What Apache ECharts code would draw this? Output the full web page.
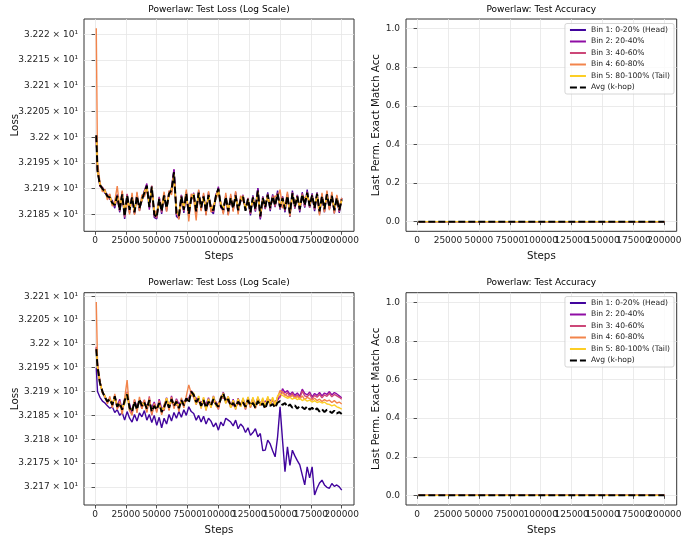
<!DOCTYPE html>
<html>
<head>
<meta charset="utf-8">
<script src="https://cdn.jsdelivr.net/npm/echarts@6/dist/echarts.min.js"></script>
<style>
  html, body { margin: 0; padding: 0; background: #fff; }
  #chart { width: 681px; height: 535px; }
</style>
</head>
<body>
<div id="chart"></div>
<script>
// loss values are stored as ten-thousandths above LOSS_BASE (274 -> 32.1874)
const LOSS_BASE = 32.16
const LOSS_UNIT = 0.0001

const steps = [
  1000, 2000, 4000, 6000, 8000, 10000, 12000, 14000, 16000, 18000,
  20000, 22000, 24000, 26000, 28000, 30000, 32000, 34000, 36000, 38000,
  40000, 42000, 44000, 46000, 48000, 50000, 52000, 54000, 56000, 58000,
  60000, 62000, 64000, 66000, 68000, 70000, 72000, 74000, 76000, 78000,
  80000, 82000, 84000, 86000, 88000, 90000, 92000, 94000, 96000, 98000,
  100000, 102000, 104000, 106000, 108000, 110000, 112000, 114000, 116000, 118000,
  120000, 122000, 124000, 126000, 128000, 130000, 132000, 134000, 136000, 138000,
  140000, 142000, 144000, 146000, 148000, 150000, 152000, 154000, 156000, 158000,
  160000, 162000, 164000, 166000, 168000, 170000, 172000, 174000, 176000, 178000,
  180000, 182000, 184000, 186000, 188000, 190000, 192000, 194000, 196000, 198000,
  200000
]
const accSteps = [1000, 10000, 20000, 30000, 40000, 50000, 60000, 70000, 80000, 90000, 100000,
  110000, 120000, 130000, 140000, 150000, 160000, 170000, 180000, 190000, 200000]

const binNames = ['Bin 1: 0-20% (Head)', 'Bin 2: 20-40%', 'Bin 3: 40-60%', 'Bin 4: 60-80%', 'Bin 5: 80-100% (Tail)']
const avgName = 'Avg (k-hop)'
const binColors = ['#41049d', '#8f0da4', '#cc4778', '#f2844b', '#fcce25']

const stepTicks = [0, 25000, 50000, 75000, 100000, 125000, 150000, 175000, 200000]
// labels are split over two axes so the crowded neighbours are all drawn
const stepLabelsOdd = [25000, 75000, 125000, 175000]
const stepLabelsEven = [0, 50000, 100000, 150000, 200000]
const topLossTicks = [32.185, 32.19, 32.195, 32.2, 32.205, 32.21, 32.215, 32.22]
const botLossTicks = [32.17, 32.175, 32.18, 32.185, 32.19, 32.195, 32.2, 32.205, 32.21]
const accTicks = [0, 0.2, 0.4, 0.6, 0.8, 1.0]

// top row loss
const topBin1 = [399,338,305,302,291,289,279,277,262,289,
  254,294,241,289,253,287,251,291,257,281,
  295,302,270,301,244,241,284,251,290,256,
  295,293,336,246,242,288,253,294,244,284,
  285,250,296,258,288,249,293,257,251,289,
  296,271,253,287,249,286,257,293,254,281,
  279,261,277,248,287,255,301,240,285,260,
  293,256,289,264,296,259,285,254,290,245,
  296,261,288,254,293,263,298,263,291,256,
  293,251,289,254,294,260,289,252,286,253,
  282]
const topBin2 = [401,332,309,298,298,282,288,268,274,281,
  263,284,250,282,265,279,260,280,267,275,
  296,310,259,300,255,247,276,261,283,267,
  286,302,338,256,243,281,264,286,256,277,
  292,260,287,268,281,259,284,266,262,282,
  304,262,264,280,261,278,267,283,263,274,
  288,262,276,259,279,265,300,242,278,269,
  284,267,281,272,286,269,278,264,282,257,
  287,270,281,265,285,273,288,271,283,267,
  286,261,281,265,285,269,282,263,278,263,
  276]
const topBin3 = [403,337,304,303,292,288,280,275,266,283,
  256,292,244,290,257,286,252,288,259,282,
  290,303,268,306,247,243,283,254,289,259,
  292,294,329,250,249,287,256,292,248,283,
  286,253,294,260,287,252,290,259,255,288,
  297,268,256,286,253,284,259,289,256,280,
  281,259,282,251,285,257,294,244,284,261,
  290,259,287,265,292,261,284,257,288,249,
  293,262,287,257,291,265,294,263,289,259,
  292,253,287,257,291,261,288,255,284,255,
  281]
const topBin4 = [612,352,312,294,299,278,290,266,275,305,
  262,296,252,278,250,292,249,294,256,288,
  284,298,272,296,258,252,272,266,294,255,
  296,288,320,262,240,276,268,298,236,290,
  280,238,298,256,292,248,295,254,268,280,
  292,274,250,292,248,290,255,295,250,286,
  276,265,272,260,276,268,288,252,275,272,
  280,270,276,286,282,298,262,268,294,246,
  282,276,276,268,280,283,283,276,278,270,
  281,248,292,254,296,258,294,252,288,264,
  282]
const topBin5 = [402,333,308,299,295,284,285,270,270,284,
  261,287,249,285,262,281,257,283,265,277,
  294,304,267,302,253,247,278,259,285,265,
  288,299,328,255,250,283,262,288,254,279,
  290,259,290,266,283,258,286,264,261,284,
  298,269,262,282,259,280,265,285,261,276,
  286,260,278,257,281,263,294,249,280,267,
  286,265,283,270,288,267,280,263,284,255,
  289,268,283,263,287,271,290,269,285,265,
  288,259,283,263,287,267,284,261,280,261,
  277]
const topAvg = [404,335,307,300,294,285,283,272,268,286,
  258,289,246,287,259,283,254,285,262,279,
  292,306,264,304,250,244,280,256,287,262,
  290,297,332,252,247,285,259,290,251,281,
  288,256,292,263,285,255,288,261,258,286,
  300,266,259,284,256,282,262,287,258,278,
  284,257,280,254,283,260,296,246,282,264,
  288,262,285,267,290,264,282,260,286,252,
  291,265,285,260,289,268,292,266,287,262,
  290,256,285,260,289,264,286,258,282,258,
  279]

// bottom row loss
const botBin1 = [350,300,288,280,276,270,265,268,256,262,
  250,256,240,258,244,236,252,238,255,247,
  260,240,252,235,250,229,246,224,244,232,
  252,238,256,244,258,246,262,250,268,258,
  254,240,250,236,248,232,244,238,226,234,
  219,236,228,244,240,236,228,240,222,232,
  226,214,224,208,214,222,205,212,176,177,
  198,190,176,163,205,268,198,132,184,145,
  177,165,155,146,125,104,142,119,142,83,
  97,108,114,104,99,97,107,101,104,100,
  93]
const botBin2 = [392,350,315,302,286,282,281,275,287,271,
  284,260,285,288,274,255,282,268,279,277,
  271,272,276,266,278,259,284,264,266,287,
  262,291,268,285,274,280,279,284,286,298,
  289,286,280,278,279,273,287,268,291,272,
  276,283,299,276,290,268,284,266,286,270,
  285,270,288,272,286,271,287,276,280,279,
  283,282,279,280,282,290,306,298,302,294,
  299,292,297,290,305,296,293,299,289,296,
  292,298,291,297,294,300,293,298,295,291,
  287]
const botBin3 = [394,356,320,298,290,277,286,270,292,266,
  270,266,276,300,260,262,275,266,280,264,
  283,258,290,250,274,266,272,262,260,285,
  270,278,274,272,269,276,275,280,284,302,
  294,282,279,273,276,270,273,275,278,279,
  262,288,286,283,278,274,270,271,273,276,
  279,262,284,268,282,266,286,270,284,266,
  287,272,285,270,288,288,300,292,298,289,
  296,287,293,286,301,291,289,295,285,292,
  288,294,287,293,290,296,289,294,291,288,
  284]
const botBin4 = [488,362,322,296,292,274,290,266,295,262,
  280,252,286,324,260,250,284,255,289,264,
  282,256,287,252,275,256,281,251,273,286,
  260,289,264,283,258,287,266,291,314,296,
  288,272,290,264,287,260,284,266,289,270,
  264,291,288,284,288,266,281,262,283,268,
  282,264,287,266,282,264,286,270,284,266,
  287,272,284,269,288,302,298,294,290,288,
  292,286,290,284,291,283,288,285,282,286,
  281,284,279,283,280,282,277,281,276,278,
  274]
const botBin5 = [390,348,316,301,289,280,283,273,289,269,
  272,268,274,296,262,264,272,268,277,276,
  272,270,276,264,266,268,271,263,264,286,
  272,280,276,275,270,278,277,282,283,293,
  297,274,291,266,288,262,285,267,290,270,
  274,282,297,275,290,266,282,264,285,268,
  287,266,289,270,288,268,290,272,287,268,
  290,274,288,272,291,296,292,289,286,288,
  284,287,283,286,281,284,280,282,278,281,
  277,279,276,278,274,273,270,272,268,266,
  263]
const botAvg = [389,352,318,300,288,279,284,272,290,268,
  276,262,281,294,266,258,279,262,284,270,
  277,264,282,258,270,262,276,257,268,280,
  266,284,270,279,265,282,271,286,276,300,
  293,278,285,270,282,266,279,271,284,274,
  268,286,296,279,284,270,276,268,279,272,
  277,268,282,271,276,266,280,271,275,264,
  279,270,274,266,277,280,272,276,268,273,
  266,271,264,270,267,263,269,262,266,260,
  265,258,263,257,262,259,255,260,254,257,
  253]

// accuracy (flat at zero in both rows)
const topAccBin1 = [0,0,0,0,0,0,0,0,0,0,0,0,0,0,0,0,0,0,0,0,0]
const topAccBin2 = [0,0,0,0,0,0,0,0,0,0,0,0,0,0,0,0,0,0,0,0,0]
const topAccBin3 = [0,0,0,0,0,0,0,0,0,0,0,0,0,0,0,0,0,0,0,0,0]
const topAccBin4 = [0,0,0,0,0,0,0,0,0,0,0,0,0,0,0,0,0,0,0,0,0]
const topAccBin5 = [0,0,0,0,0,0,0,0,0,0,0,0,0,0,0,0,0,0,0,0,0]
const topAccAvg = [0,0,0,0,0,0,0,0,0,0,0,0,0,0,0,0,0,0,0,0,0]
const botAccBin1 = [0,0,0,0,0,0,0,0,0,0,0,0,0,0,0,0,0,0,0,0,0]
const botAccBin2 = [0,0,0,0,0,0,0,0,0,0,0,0,0,0,0,0,0,0,0,0,0]
const botAccBin3 = [0,0,0,0,0,0,0,0,0,0,0,0,0,0,0,0,0,0,0,0,0]
const botAccBin4 = [0,0,0,0,0,0,0,0,0,0,0,0,0,0,0,0,0,0,0,0,0]
const botAccBin5 = [0,0,0,0,0,0,0,0,0,0,0,0,0,0,0,0,0,0,0,0,0]
const botAccAvg = [0,0,0,0,0,0,0,0,0,0,0,0,0,0,0,0,0,0,0,0,0]

const FONT = 'DejaVu Sans'
const INK = '#262626'
const GRID_LINE = '#e6e6e6'
const STEP_MIN = -8950
const STEP_MAX = 209950

const toLoss = arr => arr.map(v => +(LOSS_BASE + v * LOSS_UNIT).toFixed(4))

function lineSeries (name, color, xs, ys, idx, dashed) {
  return {
    type: 'line',
    name,
    xAxisIndex: idx,
    yAxisIndex: idx,
    data: xs.map((x, i) => [x, ys[i]]),
    symbol: 'none',
    silent: true,
    lineStyle: { color, width: dashed ? 2 : 1.4, type: dashed ? [7, 3] : 'solid' },
    itemStyle: { color }
  }
}

function panelSeries (idx, xs, bins, avg) {
  const list = bins.map((ys, i) => lineSeries(binNames[i], binColors[i], xs, ys, idx, false))
  list.push(lineSeries(avgName, '#000', xs, avg, idx, true))
  return list
}

const stepLabel = labels => ({
  customValues: labels, fontSize: 9, color: INK, margin: 5, hideOverlap: false,
  showMinLabel: true, showMaxLabel: true, fontFamily: FONT, formatter: v => String(v)
})

function stepAxis (gridIndex) {
  return {
    type: 'value',
    gridIndex,
    position: 'bottom',
    min: STEP_MIN,
    max: STEP_MAX,
    name: 'Steps',
    nameLocation: 'middle',
    nameGap: 20,
    nameMoveOverlap: false,
    nameTextStyle: { fontSize: 10.3, color: '#111', fontFamily: FONT },
    axisLine: { show: false },
    axisTick: { show: true, length: 3.5, customValues: stepTicks, lineStyle: { color: INK, width: 0.8 } },
    axisLabel: stepLabel(stepLabelsOdd),
    splitLine: { show: true, lineStyle: { color: GRID_LINE, width: 0.8 } }
  }
}

function stepLabelAxis (gridIndex) {
  return {
    type: 'value',
    gridIndex,
    position: 'bottom',
    offset: 0,
    min: STEP_MIN,
    max: STEP_MAX,
    axisLine: { show: false },
    axisTick: { show: false },
    axisLabel: stepLabel(stepLabelsEven),
    splitLine: { show: false }
  }
}

function valueAxis (gridIndex, name, min, max, ticks, gap, fmt) {
  return {
    type: 'value',
    gridIndex,
    min,
    max,
    name,
    nameLocation: 'middle',
    nameGap: gap,
    nameMoveOverlap: false,
    nameTextStyle: { fontSize: 10.3, color: '#111', fontFamily: FONT },
    axisLine: { show: false },
    axisTick: { show: true, length: 3.5, customValues: ticks, lineStyle: { color: INK, width: 0.8 } },
    axisLabel: {
      customValues: ticks, fontSize: 9, color: INK, margin: 6, fontFamily: FONT,
      showMinLabel: true, showMaxLabel: true, formatter: fmt
    },
    splitLine: { show: true, lineStyle: { color: GRID_LINE, width: 0.8 } }
  }
}

const lossFmt = v => +(v / 10).toFixed(5) + ' × 10¹'
const accFmt = v => v.toFixed(1)

function panelTitle (text, x, y) {
  return {
    text, left: x, top: y, textAlign: 'center', padding: 0,
    textStyle: { fontSize: 9, fontWeight: 'normal', color: '#000', fontFamily: FONT }
  }
}

function panelLegend (top) {
  return {
    data: binNames.concat([avgName]),
    orient: 'vertical',
    right: 7,
    top,
    itemWidth: 16,
    itemHeight: 8,
    itemGap: 2.5,
    padding: [2, 4, 2, 4],
    backgroundColor: 'rgba(255,255,255,0.8)',
    borderColor: '#cccccc',
    borderWidth: 0.8,
    borderRadius: 2,
    selectedMode: false,
    itemStyle: { opacity: 0, borderWidth: 0 },
    textStyle: { fontSize: 7.6, color: '#222', fontFamily: FONT, lineHeight: 9 }
  }
}

const gridBase = {
  show: true, borderColor: '#333', borderWidth: 1, backgroundColor: '#fff',
  containLabel: false, outerBoundsMode: 'none'
}

const chart = echarts.init(document.getElementById('chart'), null, { renderer: 'canvas' })

chart.setOption({
  animation: false,
  backgroundColor: '#fff',
  textStyle: { fontFamily: FONT },
  title: [
    panelTitle('Powerlaw: Test Loss (Log Scale)', 219, 5),
    panelTitle('Powerlaw: Test Accuracy', 541.3, 5),
    panelTitle('Powerlaw: Test Loss (Log Scale)', 219, 278.5),
    panelTitle('Powerlaw: Test Accuracy', 541.3, 278.5)
  ],
  legend: [panelLegend(23.5), panelLegend(296.5)],
  grid: [
    Object.assign({ left: 84, top: 19, width: 270, height: 212.3 }, gridBase),
    Object.assign({ left: 406, top: 19, width: 270.7, height: 212.3 }, gridBase),
    Object.assign({ left: 84, top: 292.7, width: 270, height: 212.3 }, gridBase),
    Object.assign({ left: 406, top: 292.7, width: 270.7, height: 212.3 }, gridBase)
  ],
  xAxis: [
    stepAxis(0), stepAxis(1), stepAxis(2), stepAxis(3),
    stepLabelAxis(0), stepLabelAxis(1), stepLabelAxis(2), stepLabelAxis(3)
  ],
  yAxis: [
    valueAxis(0, 'Loss', 32.1817, 32.2230, topLossTicks, 64, lossFmt),
    valueAxis(1, 'Last Perm. Exact Match Acc', -0.05, 1.05, accTicks, 25, accFmt),
    valueAxis(2, 'Loss', 32.16619, 32.21075, botLossTicks, 64, lossFmt),
    valueAxis(3, 'Last Perm. Exact Match Acc', -0.05, 1.05, accTicks, 25, accFmt)
  ],
  series: [].concat(
    panelSeries(0, steps, [topBin1, topBin2, topBin3, topBin4, topBin5].map(toLoss), toLoss(topAvg)),
    panelSeries(1, accSteps, [topAccBin1, topAccBin2, topAccBin3, topAccBin4, topAccBin5], topAccAvg),
    panelSeries(2, steps, [botBin1, botBin2, botBin3, botBin4, botBin5].map(toLoss), toLoss(botAvg)),
    panelSeries(3, accSteps, [botAccBin1, botAccBin2, botAccBin3, botAccBin4, botAccBin5], botAccAvg)
  )
})
</script>
</body>
</html>
